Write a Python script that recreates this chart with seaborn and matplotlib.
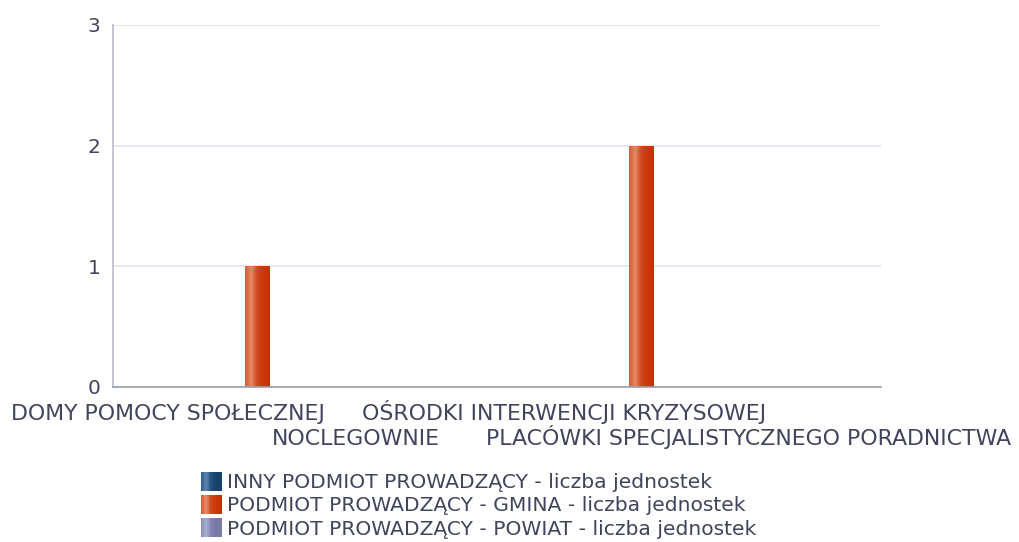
import numpy as np
import pandas as pd
import matplotlib
matplotlib.use("Agg")
import matplotlib.pyplot as plt
from matplotlib.colors import LinearSegmentedColormap
from matplotlib.legend_handler import HandlerBase
from matplotlib.patches import Rectangle
import seaborn as sns

# ---- data ----
categories = [
    "DOMY POMOCY SPOŁECZNEJ",
    "NOCLEGOWNIE",
    "OŚRODKI INTERWENCJI KRYZYSOWEJ",
    "PLACÓWKI SPECJALISTYCZNEGO PORADNICTWA",
]
series = [
    "INNY PODMIOT PROWADZĄCY - liczba jednostek",
    "PODMIOT PROWADZĄCY - GMINA - liczba jednostek",
    "PODMIOT PROWADZĄCY - POWIAT - liczba jednostek",
]
inny = [0, 0, 0, 0]
gmina = [1, 0, 2, 0]
powiat = [0, 0, 0, 0]
y_ticks = [0, 1, 2, 3]

# ---- styling ----
TEXT = "#41445b"
base_colors = ["#1d4a78", "#cc3a0e", "#8488b4"]
# left-to-right shading stops for the cylinder-like bars
shades = [
    ["#2f5f8f", "#5d86b0", "#23507f", "#163f6b", "#1a4470"],
    ["#d45a36", "#e58a68", "#d0461a", "#c93808", "#bd3408"],
    ["#8a8db5", "#a9acd0", "#8185b2", "#74779f", "#7a7ea8"],
]
cmaps = [LinearSegmentedColormap.from_list(f"shade{i}", s) for i, s in enumerate(shades)]

df = pd.DataFrame({
    "kategoria": np.repeat(categories, 3),
    "seria": series * len(categories),
    "wartosc": np.ravel(np.column_stack([inny, gmina, powiat])),
})

sns.set_style("white")
plt.rcParams["font.family"] = ["DejaVu Sans"]

fig = plt.figure(figsize=(10.2, 5.42), dpi=100)
ax = fig.add_axes([113 / 1020, 1 - 387 / 542, (881 - 113) / 1020, (387 - 25) / 542])

sns.barplot(
    data=df, x="kategoria", y="wartosc", hue="seria",
    order=categories, hue_order=series, palette=base_colors,
    width=0.39, dodge=True, legend=False, ax=ax, linewidth=0,
)

# gradient fill clipped to each bar
grad = np.linspace(0, 1, 256).reshape(1, -1)
n_cat = len(categories)
for i, patch in enumerate(ax.patches):
    h = patch.get_height()
    if not h or h <= 0:
        continue
    s_idx = i // n_cat
    x0, w = patch.get_x(), patch.get_width()
    im = ax.imshow(grad, cmap=cmaps[s_idx], aspect="auto",
                   extent=(x0, x0 + w, 0, h), zorder=patch.get_zorder() + 0.1,
                   interpolation="bilinear")
    im.set_clip_path(patch)

ax.set_xlim(-0.75, 3.25)
ax.set_ylim(0, 3)
ax.set_yticks(y_ticks)
ax.set_yticklabels([str(v) for v in y_ticks], fontsize=14.5, color=TEXT)
ax.grid(axis="y", color="#e3e3ec", linewidth=1.2)
ax.set_axisbelow(True)
ax.tick_params(axis="both", length=0)
ax.tick_params(axis="y", pad=9)
ax.set_xlabel("")
ax.set_ylabel("")

for side in ("top", "right"):
    ax.spines[side].set_visible(False)
ax.spines["left"].set_color("#bfc2d3")
ax.spines["left"].set_linewidth(1.3)
ax.spines["bottom"].set_color("#9a9db2")
ax.spines["bottom"].set_linewidth(1.2)

# category labels, staggered on two rows
label_shift = [-0.465, 0.515, 1.6, 2.56]
ax.set_xticks(label_shift)
ax.set_xticklabels(categories)
for k, lbl in enumerate(ax.get_xticklabels()):
    lbl.set_fontsize(15.8)
    lbl.set_color(TEXT)
    lbl.set_va("baseline")
    lbl.set_y(-0.078 if k % 2 == 0 else -0.147)


class GradientHandler(HandlerBase):
    def __init__(self, cmap):
        super().__init__()
        self.cmap = cmap

    def create_artists(self, legend, orig_handle, xdescent, ydescent,
                       width, height, fontsize, trans):
        steps = 24
        arts = []
        for j in range(steps):
            c = self.cmap((j + 0.5) / steps)
            arts.append(Rectangle((-xdescent + width * j / steps, -ydescent),
                                  width / steps + 0.3, height,
                                  facecolor=c, edgecolor="none", transform=trans))
        return arts


handles = [Rectangle((0, 0), 1, 1, color=c) for c in base_colors]
fig.legend(
    handles, series, loc="upper left", bbox_to_anchor=(201 / 1020, 1 - 472 / 542),
    frameon=False, fontsize=14.6, labelcolor=TEXT,
    handlelength=1.0, handleheight=1.05, handletextpad=0.28,
    labelspacing=0.14, borderpad=0, borderaxespad=0,
    handler_map={h: GradientHandler(cm) for h, cm in zip(handles, cmaps)},
)

fig.savefig("out.png", dpi=100, facecolor="white")
